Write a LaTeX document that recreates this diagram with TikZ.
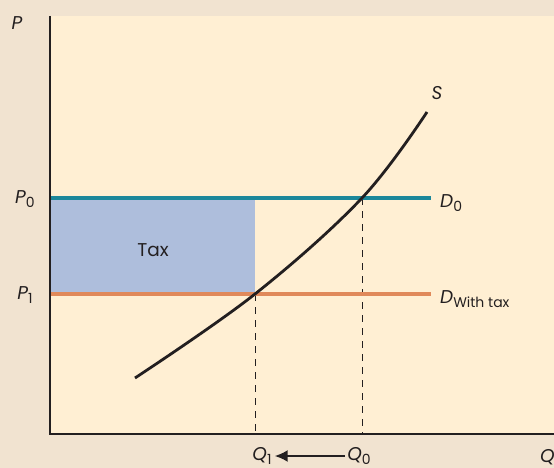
\documentclass[tikz,border=0pt]{standalone}
\usepackage{fontspec}
\setmainfont{Poppins}
\usetikzlibrary{arrows.meta}
\definecolor{outerbg}{HTML}{F1E3D0}
\definecolor{innerbg}{HTML}{FFEFD3}
\definecolor{teal}{HTML}{1B879A}
\definecolor{orng}{HTML}{E0895A}
\definecolor{taxblue}{HTML}{AEBEDC}
\definecolor{ink}{HTML}{231F20}
\tikzset{
  lbl/.style={font=\fontsize{18.5}{20}\selectfont, text=ink, inner sep=0pt},
  axis/.style={draw=ink, line width=2.2pt},
  dashv/.style={draw=ink, line width=0.8pt, dash pattern=on 7pt off 6pt},
}
\newcommand{\ital}[1]{\textit{#1}}
\newcommand{\subs}[1]{\raisebox{-0.4ex}{\fontsize{14}{15}\selectfont #1}}
\begin{document}
\begin{tikzpicture}[x=1pt,y=-1pt]
\useasboundingbox (0,0) rectangle (554,468);
\fill[outerbg] (0,0) rectangle (554,468);
\fill[innerbg] (49,16) rectangle (554,433);
% tax area
\fill[taxblue] (50,198) rectangle (255,294);
% coordinates
\coordinate (p0l) at (50,198);
\coordinate (p0r) at (431,198);
\coordinate (p1l) at (50,294);
\coordinate (p1r) at (431,294);
\coordinate (e1) at (255,294);
\coordinate (e0) at (362,198);
\coordinate (q1) at (255,433);
\coordinate (q0) at (362,433);
% dashed
\draw[dashv] (e1) -- (q1);
\draw[dashv] (e0) -- (q0);
% demand lines
\draw[teal, line width=3.2pt] (p0l) -- (p0r);
\draw[orng, line width=3.2pt] (p1l) -- (p1r);
% supply
\draw[ink, line width=2.8pt] plot[smooth, tension=0.6] coordinates {(135,378) (255,294) (362,198) (427,112)};
% axes
\coordinate (origin) at (50,434);
\coordinate (ytop) at (50,16);
\coordinate (xend) at (554,434);
\draw[axis] (ytop) -- (origin) -- (xend);
% labels
\node[lbl] (P) at (17,23) {\ital{P}};
\node[lbl] (P0) at (25,199) {\ital{P}\subs{0}};
\node[lbl] (P1) at (25,295) {\ital{P}\subs{1}};
\node[lbl] (tax) at (153,250) {Tax};
\node[lbl] (S) at (437,93) {\ital{S}};
\node[lbl, anchor=west] (D0) at (440,203) {\ital{D}\subs{0}};
\node[lbl, anchor=west] (Dw) at (440,299) {\ital{D}\subs{With tax}};
\node[lbl] (Q1) at (262,456) {\ital{Q}\subs{1}};
\node[lbl] (Q0) at (359,456) {\ital{Q}\subs{0}};
\node[lbl, anchor=west] (Q) at (540,457) {\ital{Q}};
\draw[ink, line width=2pt, -{Latex[length=13pt,width=12pt]}] ([xshift=-2pt]Q0.west) -- ([xshift=3pt]Q1.east);
\end{tikzpicture}
\end{document}
